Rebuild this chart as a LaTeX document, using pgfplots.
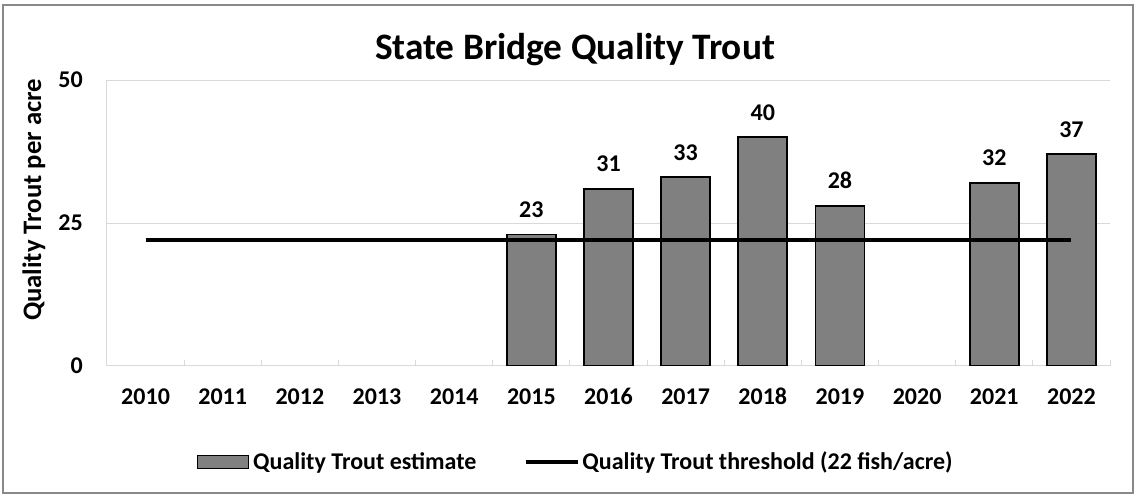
\documentclass[border=0pt]{standalone}
\usepackage{fontspec}
\setmainfont{Carlito}
\usepackage{pgfplots}
\pgfplotsset{compat=1.18}
\definecolor{barfill}{RGB}{128,128,128}
\definecolor{gridc}{RGB}{217,217,217}
\definecolor{framec}{RGB}{137,137,137}
\newcommand{\fs}{\fontsize{18}{21.6}\selectfont\bfseries}
\pgfplotsset{
  barlegend/.style={legend image code/.code={\draw[##1, line width=1pt] (0pt,-4.875pt) rectangle (38.25pt,4.875pt); \path[draw=none,fill=none] (0pt,0pt) -- (39.75pt,0pt);}},
  linelegend/.style={legend image code/.code={\draw[##1, line width=3pt] (0pt,0pt) -- (39pt,0pt); \path[draw=none,fill=none] (-35pt,0pt) -- (40.5pt,0pt);}},
}
\begin{document}
\begin{tikzpicture}
\useasboundingbox (-80.25pt,-97.5pt) rectangle (771.75pt,274.5pt);
\draw[framec, line width=0.9pt] (-78pt,-95.25pt) rectangle (769.5pt,270.75pt);
\begin{axis}[
  at={(0,0)}, anchor=south west,
  scale only axis, width=752.25pt, height=214.5pt,
  xmin=-0.5, xmax=12.5, ymin=0, ymax=50,
  axis x line*=bottom, axis y line*=left,
  axis line style={gridc, line width=0.75pt, -},
  xtick={0,...,12},
  xticklabels={2010,2011,2012,2013,2014,2015,2016,2017,2018,2019,2020,2021,2022},
  minor xtick={-0.5,0.5,...,12.5},
  major x tick style={draw=none},
  minor x tick style={gridc, line width=0.75pt},
  minor tick length=4.5pt,
  tick align=inside,
  ytick={0,25,50},
  y tick style={draw=none},
  ymajorgrids, major grid style={gridc, line width=0.75pt},
  /pgf/number format/assume math mode=true,
  tick label style={font=\fs, text=black},
  xticklabel style={anchor=base, yshift=-29.25pt},
  yticklabel style={anchor=east, inner sep=0pt, xshift=-18pt},
  title={State Bridge Quality Trout},
  title style={at={(0.4666,1.045)}, anchor=base, font=\fontsize{28}{33}\selectfont\bfseries},
  ylabel={Quality Trout per acre},
  ylabel style={at={(-0.0728,0.5804)}, anchor=center, font=\fontsize{20}{24}\selectfont\bfseries},
  legend columns=2,
  legend style={at={(0.4676,-0.3357)}, anchor=center, draw=none, fill=none, inner sep=0pt,
    font=\fs},
]
\addplot[ybar, bar width=36.75pt, fill=barfill, draw=black, line width=1.4pt,
  nodes near coords,
  every node near coord/.append style={font=\fs, inner sep=0pt, yshift=12pt, anchor=south, text=black},
  barlegend]
  coordinates {(5,23) (6,31) (7,33) (8,40) (9,28) (11,32) (12,37)};
\addlegendentry{Quality Trout estimate}
\addplot[black, line width=3pt, linelegend]
  coordinates {(0,22) (1,22) (2,22) (3,22) (4,22) (5,22) (6,22) (7,22) (8,22) (9,22) (10,22) (11,22) (12,22)};
\addlegendentry{Quality Trout threshold (22 fish/acre)}
\end{axis}
\end{tikzpicture}
\end{document}
